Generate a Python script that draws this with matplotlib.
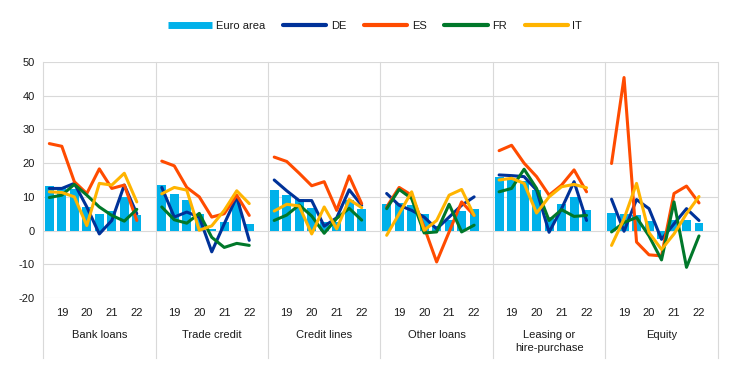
"""
Euro area / country bars and lines, grouped by financing source
"""
import matplotlib
matplotlib.use('Agg')
import matplotlib.pyplot as plt
from matplotlib.lines import Line2D
from matplotlib.transforms import blended_transform_factory

plt.rcParams['font.family'] = ['Liberation Sans', 'DejaVu Sans']
plt.rcParams['axes.unicode_minus'] = False

groups = ["Bank loans", "Trade credit", "Credit lines", "Other loans",
          "Leasing or\nhire-purchase", "Equity"]
year_labels = ["19", "20", "21", "22"]

# 8 half-year observations per group
euro_area = [13.3, 12.8, 12.3, 7.0, 5.0, 5.7, 10.0, 4.5,
             13.5, 10.8, 9.0, 5.0, 0.5, 2.5, 9.5, 2.0,
             12.0, 10.7, 9.5, 6.7, 2.5, 2.5, 9.0, 6.3,
             7.8, 8.2, 7.7, 5.0, 1.5, 3.0, 5.8, 6.3,
             15.8, 15.2, 14.8, 12.0, 4.0, 7.8, 10.0, 6.2,
             5.3, 5.0, 4.5, 2.8, -2.5, 3.0, 3.0, 2.3]
de = [12.5, 12.5, 14.0, 7.0, -1.0, 3.0, 13.5, 5.0,
      12.8, 4.0, 5.5, 4.0, -6.3, 2.0, 10.0, -2.9,
      15.0, 11.8, 8.9, 8.9, 1.3, 3.8, 12.1, 7.5,
      11.0, 7.5, 6.0, 4.0, 0.5, 4.0, 7.5, 10.0,
      16.5, 16.3, 16.0, 12.0, -0.5, 6.5, 14.5, 3.0,
      9.3, -0.2, 9.2, 6.5, -2.6, 2.0, 6.5, 3.0]
es = [25.8, 25.0, 14.5, 11.0, 18.3, 12.5, 13.5, 3.0,
      20.6, 19.2, 12.8, 10.0, 4.0, 5.0, 10.5, 4.5,
      21.8, 20.5, 17.0, 13.3, 14.5, 6.0, 16.2, 8.0,
      7.0, 12.8, 10.5, 1.0, -9.3, -0.4, 8.5, 4.5,
      23.7, 25.3, 20.0, 16.0, 10.5, 13.5, 18.0, 11.5,
      19.9, 45.4, -3.4, -7.2, -7.5, 11.0, 13.2, 8.2]
fr = [9.8, 10.5, 13.7, 10.5, 7.0, 4.5, 2.8, 6.3,
      7.0, 3.2, 2.2, 5.1, -2.0, -5.0, -3.8, -4.4,
      3.0, 4.6, 7.6, 4.3, -0.8, 3.6, 6.6, 3.1,
      6.5, 12.2, 9.5, -0.7, -0.4, 7.8, -0.4, 1.6,
      11.5, 12.5, 18.2, 12.5, 3.0, 6.2, 4.2, 4.5,
      -0.4, 2.4, 3.9, -1.6, -8.7, 8.5, -10.9, -1.6]
it = [11.5, 11.3, 10.0, 1.5, 14.0, 13.5, 17.0, 8.5,
      10.9, 12.8, 12.0, 0.1, 1.4, 6.0, 11.8, 8.0,
      5.8, 7.8, 7.3, -1.0, 7.0, 0.5, 9.2, 6.8,
      -1.4, 5.0, 11.5, 0.1, 3.0, 10.5, 12.2, 4.5,
      15.0, 15.5, 14.0, 5.2, 10.0, 13.0, 13.7, 12.7,
      -4.4, 3.5, 14.0, -0.6, -5.6, -1.0, 5.0, 10.1]

series = [("DE", de, '#003299'), ("ES", es, '#FF4B00'),
          ("FR", fr, '#00782A'), ("IT", it, '#FFB400')]
bar_color = '#00B1EA'
grid_color = '#D9D9D9'
text_color = '#1a1a1a'

n_obs = 8
slot = n_obs + 1  # one empty slot after each group

fig = plt.figure(figsize=(7.43, 3.70), dpi=100)
ax = fig.add_axes([0.058, 0.1946, 0.908, 0.6378])

for g in range(len(groups)):
    xs = [g * slot + j for j in range(n_obs)]
    sl = slice(g * n_obs, (g + 1) * n_obs)
    ax.bar(xs, euro_area[sl], width=0.72, color=bar_color, zorder=2)
    for name, vals, color in series:
        ax.plot(xs, vals[sl], color=color, linewidth=2.2,
                solid_joinstyle='round', solid_capstyle='round', zorder=3)

ax.set_xlim(-0.5, len(groups) * slot - 0.5)
ax.set_ylim(-20, 50)
ax.set_yticks(range(-20, 51, 10))
ax.yaxis.grid(True, color=grid_color, linewidth=0.8, zorder=0)
ax.set_axisbelow(True)
for s in ax.spines.values():
    s.set_visible(False)

# vertical group separators that run down through the label area
for g in range(len(groups) + 1):
    ax.axvline(g * slot - 0.5, ymin=-0.255, ymax=1, color=grid_color,
               linewidth=0.8, clip_on=False, zorder=0)

tick_pos = [g * slot + 2 * k + 1 for g in range(len(groups)) for k in range(4)]
ax.set_xticks(tick_pos)
ax.set_xticklabels(year_labels * len(groups))
ax.tick_params(axis='x', length=0, pad=7, labelsize=8, colors=text_color)
ax.tick_params(axis='y', length=0, pad=6, labelsize=8, colors=text_color)

trans = blended_transform_factory(ax.transData, ax.transAxes)
for g, label in enumerate(groups):
    ax.text(g * slot + 4, -0.135, label, transform=trans, ha='center',
            va='top', fontsize=8, color=text_color, linespacing=1.45)

handles = [Line2D([], [], color=bar_color, linewidth=5, solid_capstyle='butt')]
handles += [Line2D([], [], color=c, linewidth=3, solid_capstyle='round')
            for _, _, c in series]
labels = ["Euro area"] + [name for name, _, _ in series]
fig.legend(handles, labels, loc='center', bbox_to_anchor=(0.505, 0.931),
           ncol=5, frameon=False, fontsize=8, handlelength=3.9,
           handletextpad=0.4, columnspacing=1.6, labelcolor=text_color)

plt.savefig('out.png', dpi=100)
plt.close()
